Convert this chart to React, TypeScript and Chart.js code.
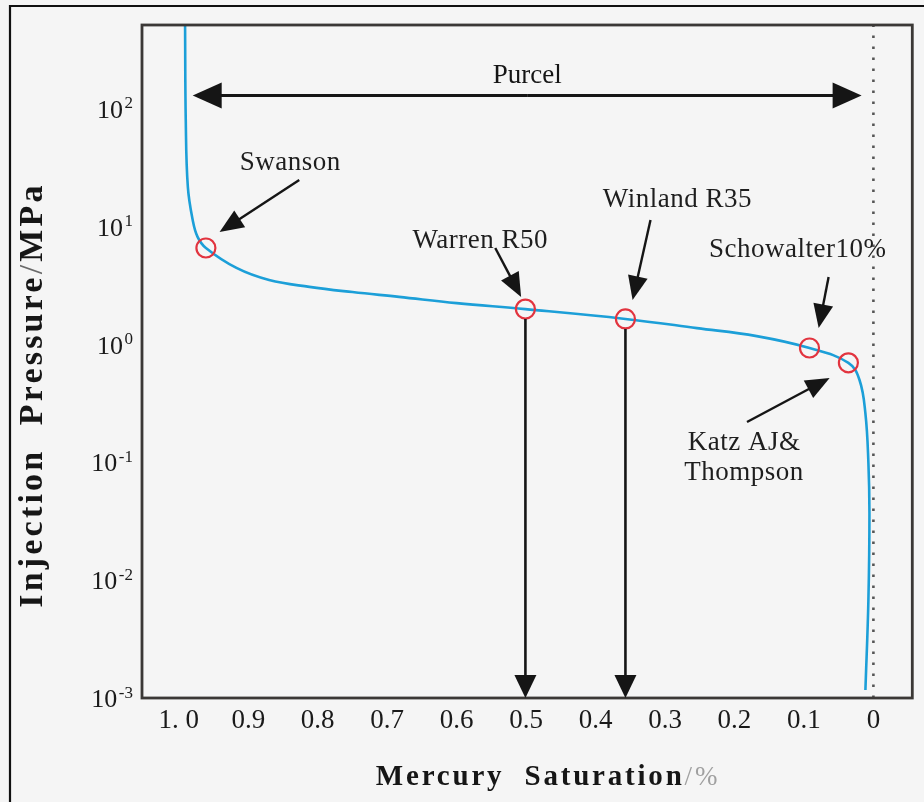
import { useEffect, useRef } from 'react';
import { Chart, registerables } from 'chart.js';

Chart.register(...registerables);

// Mercury injection capillary pressure curve: saturation (fraction) vs pressure (MPa)
const saturation = [
  0.991, 0.99, 0.987, 0.98, 0.973, 0.961, 0.917, 0.87, 0.812, 0.75, 0.683, 0.6, 0.501,
  0.357, 0.254, 0.168, 0.092, 0.036, 0.02, 0.0115, 0.0072, 0.0057, 0.0072, 0.0115,
];
const pressure = [
  516, 80.7, 21.8, 11.4, 8.2, 6.6, 4.47, 3.53, 3.09, 2.79, 2.54, 2.25, 2.0,
  1.65, 1.38, 1.18, 0.935, 0.7, 0.5, 0.26, 0.099, 0.037, 0.0068, 0.00117,
];

// Characteristic points picked on the curve
const keyNames = ['Swanson', 'Warren R50', 'Winland R35', 'Schowalter10%', 'Katz AJ& Thompson'];
const keySaturation = [0.961, 0.501, 0.357, 0.092, 0.036];
const keyPressure = [6.6, 2.0, 1.65, 0.935, 0.7];

// Points that get a drop line down to the saturation axis
const dropIndex = [1, 2];

// Purcel integration range (saturation from / to) and the pressure it is drawn at
const purcelRange = [0.98, 0.017];
const purcelPressure = 130;

// Axis ticks
const xTickValues = [1.0, 0.9, 0.8, 0.7, 0.6, 0.5, 0.4, 0.3, 0.2, 0.1, 0];
const xTickLabels = ['1. 0', '0.9', '0.8', '0.7', '0.6', '0.5', '0.4', '0.3', '0.2', '0.1', '0'];
const yTickExponents = [2, 1, 0, -1, -2, -3];

// Axis ranges
const X_MIN = -0.056;
const X_MAX = 1.053;
const Y_MIN = 0.001;
const Y_MAX = 516;

const SERIF = "'Liberation Serif', 'Times New Roman', 'DejaVu Serif', serif";
const CURVE = '#1c9fd8';
const RING = '#e2343f';
const INK = '#151515';

// Callout layout for each named point, in data coordinates (saturation, pressure)
const callouts = [
  { lines: ['Swanson'], at: [0.8395, 34.8], tail: [0.8266, 24.9], tip: [0.9413, 9.04] },
  { lines: ['Warren R50'], at: [0.566, 7.58], tail: [0.5444, 6.61], tip: [0.5072, 2.535] },
  { lines: ['Winland R35'], at: [0.2822, 16.9], tail: [0.3209, 11.4], tip: [0.3467, 2.39] },
  { lines: ['Schowalter10%'], at: [0.1089, 6.35], tail: [0.0645, 3.75], tip: [0.0788, 1.38] },
  { lines: ['Katz AJ&', 'Thompson'], at: [0.1862, 0.1462], tail: [0.182, 0.22], tip: [0.063, 0.5205] },
];

type Ctx = CanvasRenderingContext2D;

function arrow(ctx: Ctx, x1: number, y1: number, x2: number, y2: number, len: number, half: number, lw: number) {
  const a = Math.atan2(y2 - y1, x2 - x1);
  const bx = x2 - len * Math.cos(a);
  const by = y2 - len * Math.sin(a);
  ctx.lineWidth = lw;
  ctx.beginPath();
  ctx.moveTo(x1, y1);
  ctx.lineTo(bx + Math.cos(a), by + Math.sin(a));
  ctx.stroke();
  ctx.beginPath();
  ctx.moveTo(x2, y2);
  ctx.lineTo(bx + half * Math.sin(a), by - half * Math.cos(a));
  ctx.lineTo(bx - half * Math.sin(a), by + half * Math.cos(a));
  ctx.closePath();
  ctx.fill();
}

type Part = { text: string; font: string; color: string };

// Draws a run of differently styled pieces centred on (0,0) of the current transform
function spacedRun(ctx: Ctx, parts: Part[], spacing: number) {
  (ctx as any).letterSpacing = spacing + 'px';
  const widths = parts.map((p) => {
    ctx.font = p.font;
    return ctx.measureText(p.text).width;
  });
  const total = widths.reduce((s, w) => s + w, 0);
  let x = -total / 2;
  ctx.textAlign = 'left';
  ctx.textBaseline = 'alphabetic';
  parts.forEach((p, i) => {
    ctx.font = p.font;
    ctx.fillStyle = p.color;
    ctx.fillText(p.text, x, 0);
    x += widths[i];
  });
  (ctx as any).letterSpacing = '0px';
}

const decorations = {
  id: 'decorations',
  beforeDraw(chart: Chart) {
    const ctx = chart.ctx;
    ctx.save();
    ctx.fillStyle = '#f5f5f5';
    ctx.fillRect(0, 0, chart.width, chart.height);
    // outer figure frame (open to the right and bottom)
    ctx.strokeStyle = '#111';
    ctx.lineWidth = 2.2;
    ctx.beginPath();
    ctx.moveTo(10, chart.height);
    ctx.lineTo(10, 6);
    ctx.lineTo(chart.width, 6);
    ctx.stroke();
    ctx.restore();
  },
  afterDatasetsDraw(chart: Chart) {
    const ctx = chart.ctx;
    const xs = chart.scales.x;
    const ys = chart.scales.y;
    const area = chart.chartArea;
    const px = (v: number) => xs.getPixelForValue(v);
    const py = (v: number) => ys.getPixelForValue(v);
    ctx.save();

    // plot frame
    ctx.strokeStyle = '#3b3836';
    ctx.lineWidth = 2.8;
    ctx.strokeRect(area.left, area.top, area.right - area.left, area.bottom - area.top);

    ctx.fillStyle = INK;
    ctx.strokeStyle = INK;
    ctx.lineCap = 'butt';

    // Purcel double arrow
    const ay = py(purcelPressure);
    const ax1 = px(purcelRange[0]);
    const ax2 = px(purcelRange[1]);
    arrow(ctx, (ax1 + ax2) / 2, ay, ax1, ay, 29, 13, 3);
    arrow(ctx, (ax1 + ax2) / 2, ay, ax2, ay, 29, 13, 3);
    ctx.font = `27px ${SERIF}`;
    ctx.textAlign = 'center';
    ctx.textBaseline = 'middle';
    ctx.fillText('Purcel', (ax1 + ax2) / 2, ay - 20);

    // drop lines from R50 / R35 to the saturation axis
    dropIndex.forEach((i) => {
      const x = px(keySaturation[i]);
      const y = py(keyPressure[i]) + 10;
      arrow(ctx, x, y, x, area.bottom, 23, 11, 2.6);
    });

    // callouts
    callouts.forEach((c) => {
      arrow(ctx, px(c.tail[0]), py(c.tail[1]), px(c.tip[0]), py(c.tip[1]), 24, 10, 2.4);
      ctx.font = `27px ${SERIF}`;
      (ctx as any).letterSpacing = '0.5px';
      ctx.textAlign = 'center';
      ctx.textBaseline = 'middle';
      ctx.fillStyle = '#1e1e1e';
      c.lines.forEach((line, k) => {
        ctx.fillText(line, px(c.at[0]), py(c.at[1]) + k * 30);
      });
      (ctx as any).letterSpacing = '0px';
      ctx.fillStyle = INK;
    });

    // logarithmic tick labels with superscript exponents
    ctx.fillStyle = '#1a1a1a';
    ctx.textAlign = 'right';
    ctx.textBaseline = 'alphabetic';
    const right = area.left - 9;
    yTickExponents.forEach((e) => {
      const y = ys.getPixelForValue(Math.pow(10, e));
      const sup = String(e);
      ctx.font = `17px ${SERIF}`;
      const sw = ctx.measureText(sup).width;
      ctx.fillText(sup, right, y - 0.5);
      ctx.font = `26px ${SERIF}`;
      ctx.fillText('10', right - sw - 1.5, y + 9);
    });

    // axis titles
    ctx.save();
    ctx.translate(42, 395);
    ctx.rotate(-Math.PI / 2);
    spacedRun(
      ctx,
      [
        { text: 'Injection  Pressure', font: `bold 34px ${SERIF}`, color: '#161616' },
        { text: '/', font: `34px ${SERIF}`, color: '#6a6a6a' },
        { text: 'MPa', font: `bold 34px ${SERIF}`, color: '#161616' },
      ],
      3.2
    );
    ctx.restore();

    ctx.save();
    ctx.translate(548, 785);
    spacedRun(
      ctx,
      [
        { text: 'Mercury  Saturation', font: `bold 29px ${SERIF}`, color: '#161616' },
        { text: '/%', font: `27px ${SERIF}`, color: '#a0a0a0' },
      ],
      2.8
    );
    ctx.restore();

    ctx.restore();
  },
};

export default function App() {
  const ref = useRef<HTMLCanvasElement>(null);

  useEffect(() => {
    document.body.style.margin = '0';
    document.body.style.background = '#f5f5f5';
    const curve = saturation.map((s, i) => ({ x: s, y: pressure[i] }));
    const keys = keySaturation.map((s, i) => ({ x: s, y: keyPressure[i] }));
    const chart = new Chart(ref.current!, {
      type: 'scatter',
      data: {
        datasets: [
          {
            label: keyNames.join(', '),
            data: keys,
            showLine: false,
            pointStyle: 'circle',
            pointRadius: 9.5,
            pointBorderWidth: 2.2,
            pointBorderColor: RING,
            pointBackgroundColor: 'rgba(0,0,0,0)',
            order: 0,
          },
          {
            label: 'Capillary pressure',
            data: curve,
            showLine: true,
            borderColor: CURVE,
            borderWidth: 2.6,
            pointRadius: 0,
            tension: 0.4,
            order: 1,
          },
          {
            label: 'Zero saturation',
            data: [
              { x: 0, y: Y_MIN },
              { x: 0, y: Y_MAX },
            ],
            showLine: true,
            borderColor: '#555',
            borderWidth: 2.6,
            borderDash: [2.6, 8.4],
            pointRadius: 0,
            order: 2,
          },
        ],
      },
      options: {
        responsive: false,
        animation: false,
        events: [],
        layout: { padding: { top: 25, right: 8, left: 0, bottom: 0 } },
        plugins: { legend: { display: false }, tooltip: { enabled: false } },
        scales: {
          x: {
            type: 'linear',
            min: X_MIN,
            max: X_MAX,
            reverse: true,
            grid: { display: false, drawTicks: false },
            border: { display: false },
            afterBuildTicks: (s: any) => {
              s.ticks = xTickValues.map((v) => ({ value: v }));
            },
            afterFit: (s: any) => {
              s.height = 104;
            },
            ticks: {
              autoSkip: false,
              maxRotation: 0,
              padding: 7,
              color: '#1a1a1a',
              font: { family: SERIF, size: 27 },
              callback: (_v: any, i: number) => xTickLabels[i],
            },
          },
          y: {
            type: 'logarithmic',
            min: Y_MIN,
            max: Y_MAX,
            grid: { display: false, drawTicks: false },
            border: { display: false },
            ticks: { display: false },
            afterFit: (s: any) => {
              s.width = 142;
            },
          },
        },
      },
      plugins: [decorations],
    });
    return () => chart.destroy();
  }, []);

  return <canvas ref={ref} width={924} height={802} style={{ display: 'block' }} />;
}
